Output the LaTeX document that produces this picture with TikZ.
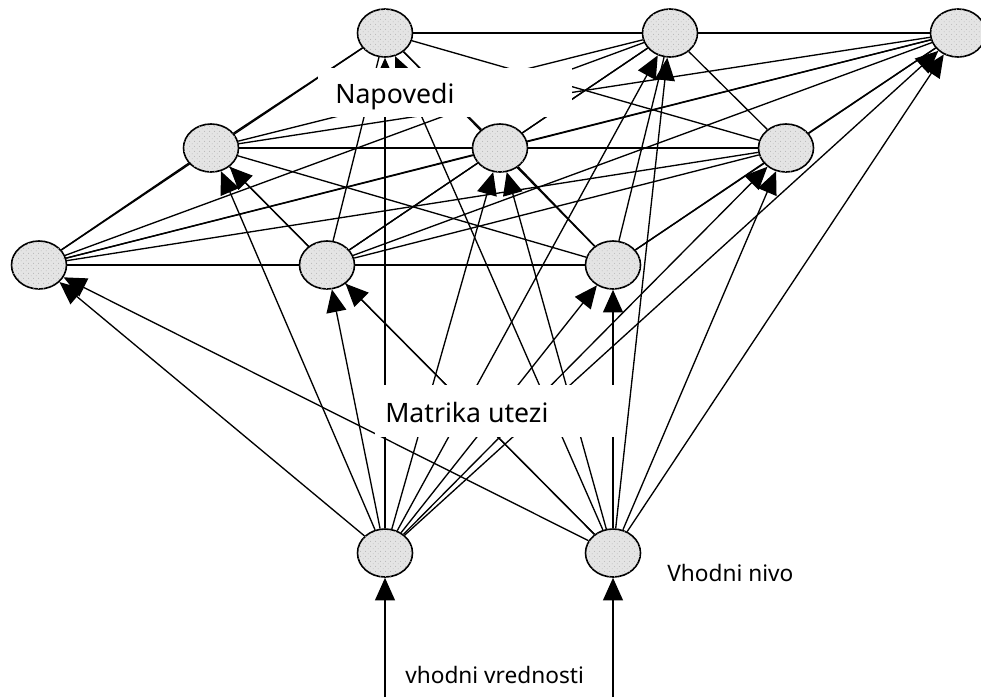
\documentclass[tikz,border=0pt]{standalone}
\usepackage{fontspec}
\setmainfont{Noto Sans}
\usetikzlibrary{shapes.geometric,arrows.meta,patterns}
\pgfdeclarelayer{edges}
\pgfsetlayers{edges,main}
% sparse diagonal dot texture for the neuron fill
\pgfdeclarepatternformonly{nodedots}{\pgfpointorigin}{\pgfpoint{4pt}{4pt}}{\pgfpoint{4pt}{4pt}}{%
  \pgfpathcircle{\pgfpoint{1pt}{1pt}}{0.4pt}%
  \pgfpathcircle{\pgfpoint{3pt}{3pt}}{0.4pt}%
  \pgfusepath{fill}}
\definecolor{nodegray}{HTML}{E4E4E4}
\definecolor{dotgray}{HTML}{B4B4B4}
\begin{document}
\begin{tikzpicture}[x=0.75pt,y=-0.75pt,
  neuron/.style={ellipse, draw=black, line width=1.2pt, fill=nodegray,
    minimum width=41.25pt, minimum height=36pt, inner sep=0pt,
    postaction={pattern=nodedots, pattern color=dotgray}},
  link/.style={line width=1pt},
  feed/.style={line width=1pt, -{Triangle[length=17pt,width=15pt]}},
  bigtext/.style={font=\fontsize{20}{24}\selectfont, inner sep=0pt, anchor=base west},
  smalltext/.style={font=\fontsize{17}{20}\selectfont, inner sep=0pt, anchor=base west}]
\useasboundingbox (0,0) rectangle (981,697);

% hidden neurons, three rows of three
\node[neuron] (T1) at (385,33) {};
\node[neuron] (T2) at (670,33) {};
\node[neuron] (T3) at (958,33) {};
\node[neuron] (M1) at (211,148) {};
\node[neuron] (M2) at (500,148) {};
\node[neuron] (M3) at (786,148) {};
\node[neuron] (L1) at (39,265) {};
\node[neuron] (L2) at (327,265) {};
\node[neuron] (L3) at (613,265) {};
% input neurons
\node[neuron] (I1) at (385,553) {};
\node[neuron] (I2) at (613,553) {};
\coordinate (in1) at (385,697);
\coordinate (in2) at (613,697);

\begin{pgfonlayer}{edges}
  % every hidden neuron linked to every other one
  \foreach \a [count=\i] in {T1,T2,T3,M1,M2,M3,L1,L2,L3}{
    \foreach \b [count=\j] in {T1,T2,T3,M1,M2,M3,L1,L2,L3}{
      \ifnum\j>\i \draw[link] (\a) -- (\b); \fi
    }
  }
  % each input feeds all hidden neurons
  \foreach \src in {I1,I2}{
    \foreach \dst in {T1,T2,T3,M1,M2,M3,L1,L2,L3}{
      \draw[feed] (\src) -- (\dst);
    }
  }
  \draw[feed] (in1) -- (I1);
  \draw[feed] (in2) -- (I2);
\end{pgfonlayer}

% label panels
\fill[white] (318,68) rectangle (572,117);
\fill[white] (375,385) rectangle (621,437);
\node[bigtext] (napovedi) at (335,103) {Napovedi};
\node[bigtext] (matrika) at (385,422) {Matrika utezi};
\node[smalltext] (vnivo) at (667,581) {Vhodni nivo};
\node[smalltext] (vvred) at (405,683) {vhodni vrednosti};
\end{tikzpicture}
\end{document}
